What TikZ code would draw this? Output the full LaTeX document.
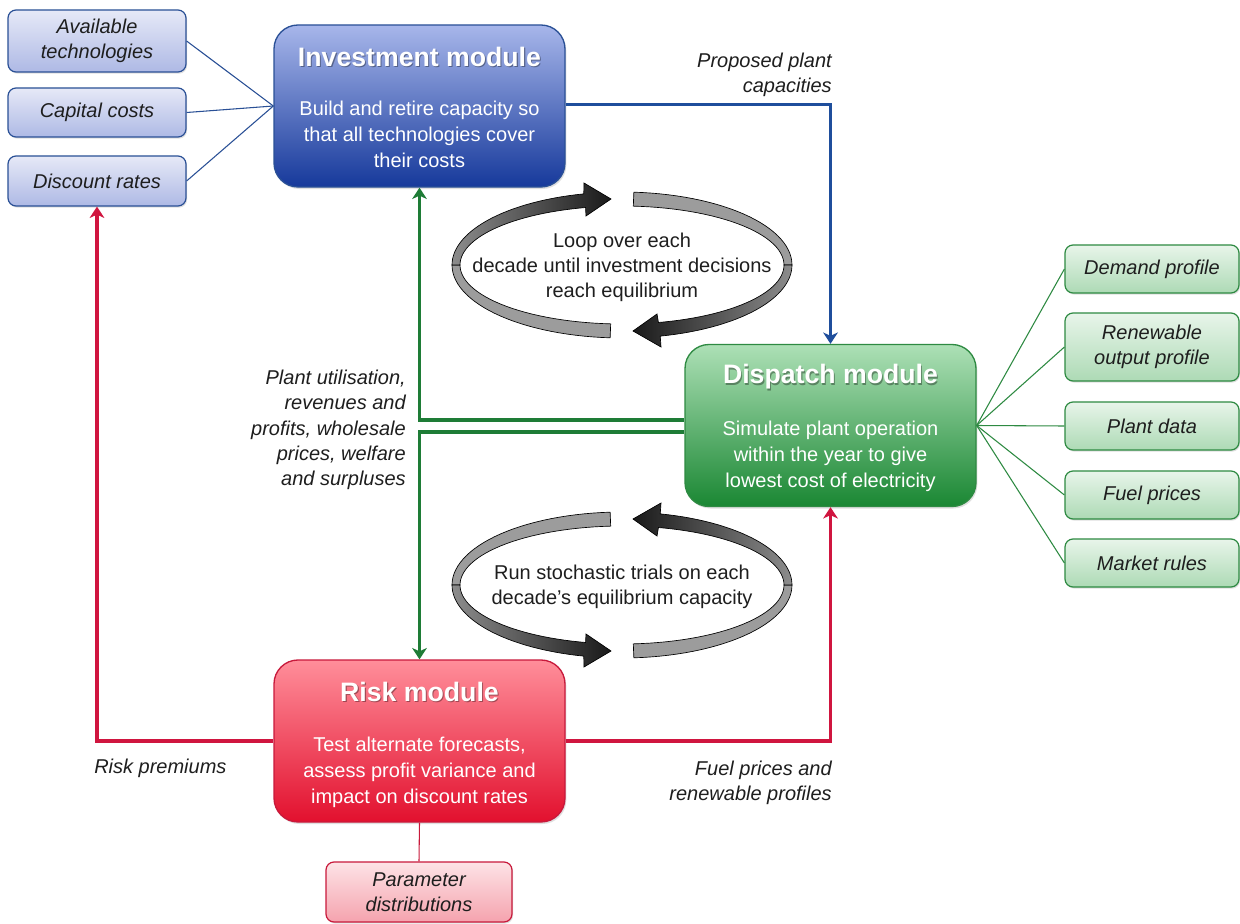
\documentclass[tikz,border=0pt]{standalone}
\usepackage{fontspec}
\setmainfont{Liberation Sans}
\usetikzlibrary{arrows.meta,shadows,calc}
\definecolor{bInTop}{HTML}{E6E9F7}
\definecolor{bInBot}{HTML}{AEB9E5}
\definecolor{bBorder}{HTML}{2A5096}
\definecolor{invTop}{HTML}{A7B6EA}
\definecolor{invBot}{HTML}{16399B}
\definecolor{blueArrow}{HTML}{1F4E9C}
\definecolor{gInTop}{HTML}{E8F5EA}
\definecolor{gInBot}{HTML}{ADDAB5}
\definecolor{gBorder}{HTML}{2E8A42}
\definecolor{dispTop}{HTML}{ADE0B6}
\definecolor{dispBot}{HTML}{1A8733}
\definecolor{greenArrow}{HTML}{1E7C36}
\definecolor{riskTop}{HTML}{FF8E9A}
\definecolor{riskBot}{HTML}{E2102E}
\definecolor{rBorder}{HTML}{C8193B}
\definecolor{redArrow}{HTML}{D0153F}
\definecolor{pTop}{HTML}{FDE3E6}
\definecolor{pBot}{HTML}{F5A3AE}
\definecolor{ribLight}{HTML}{9C9C9C}
\definecolor{lblText}{HTML}{1E1E1E}
\tikzset{
  inbox/.style={draw, rounded corners=6pt, line width=0.9pt, align=center, inner sep=0pt,
    font=\itshape\fontsize{15}{19}\selectfont, text=lblText,
    drop shadow={opacity=0.25, shadow xshift=0.8pt, shadow yshift=-1.2pt}},
  blueIn/.style={inbox, draw=bBorder, top color=bInTop, bottom color=bInBot,
    minimum width=133.5pt},
  greenIn/.style={inbox, draw=gBorder, top color=gInTop, bottom color=gInBot,
    minimum width=130.5pt},
  module/.style={draw, rounded corners=18pt, line width=1pt, minimum width=218.25pt,
    minimum height=121.5pt, inner sep=0pt,
    drop shadow={opacity=0.25, shadow xshift=1pt, shadow yshift=-1.5pt}},
  modtitle/.style={text=white, font=\bfseries\fontsize{20}{24}\selectfont, inner sep=0pt},
  modshadow/.style={text=black, opacity=0.35, font=\bfseries\fontsize{20}{24}\selectfont, inner sep=0pt},
  modbody/.style={text=white, align=center, font=\fontsize{15}{19.5}\selectfont, inner sep=0pt},
  lbl/.style={text=lblText, font=\itshape\fontsize{15}{19}\selectfont, inner sep=0pt},
  looptxt/.style={text=lblText, align=center, font=\fontsize{15}{18.75}\selectfont, inner sep=0pt},
  thinblue/.style={draw=bBorder, line width=0.8pt},
  thingreen/.style={draw=gBorder, line width=0.8pt},
  thinred/.style={draw=rBorder, line width=0.8pt},
  arr/.style={line width=2.6pt, -{Stealth[length=8.5pt,width=11pt,inset=2.5pt]}},
  barrow/.style={arr, draw=blueArrow},
  garrow/.style={arr, draw=greenArrow},
  rarrow/.style={arr, draw=redArrow},
  lightrib/.style={fill=ribLight, draw=black, line width=0.5pt},
  darkrib/.style={draw=black, line width=0.5pt}
}
\begin{document}
\begin{tikzpicture}[x=0.75pt,y=-0.75pt]
\useasboundingbox (0,0) rectangle (1240,924);
\fill[white] (0,0) rectangle (1240,924);

% ---------- left inputs ----------
\node[blueIn, minimum height=46.5pt] (av) at (97,41) {Available\\technologies};
\node[blueIn, minimum height=36.75pt] (cap) at (97,112.5) {Capital costs};
\node[blueIn, minimum height=37.5pt] (disc) at (97,181) {Discount rates};

% ---------- modules ----------
\node[module, draw=bBorder, top color=invTop, bottom color=invBot] (inv) at (419.5,106) {};
\node[modshadow, xshift=0.8pt, yshift=-0.9pt] (invTs) at (419.5,57) {Investment module};
\node[modtitle] (invT) at (419.5,57) {Investment module};
\node[modbody] (invB) at (419.5,134.5) {Build and retire capacity so\\that all technologies cover\\their costs};

\node[module, draw=gBorder, top color=dispTop, bottom color=dispBot] (disp) at (830.5,425.5) {};
\node[modshadow, xshift=0.8pt, yshift=-0.9pt] (dispTs) at (830.5,377) {Dispatch module};
\node[modtitle] (dispT) at (830.5,377) {Dispatch module};
\node[modbody] (dispB) at (830.5,456) {Simulate plant operation\\within the year to give\\lowest cost of electricity};

\node[module, draw=rBorder, top color=riskTop, bottom color=riskBot] (risk) at (419.5,741) {};
\node[modshadow, xshift=0.8pt, yshift=-0.9pt] (riskTs) at (419.5,692) {Risk module};
\node[modtitle] (riskT) at (419.5,692) {Risk module};
\node[modbody] (riskB) at (419.5,772) {Test alternate forecasts,\\assess profit variance and\\impact on discount rates};

% ---------- right inputs ----------
\node[greenIn, minimum height=36pt] (dem) at (1152,269) {Demand profile};
\node[greenIn, minimum height=51pt] (ren) at (1152,347) {Renewable\\output profile};
\node[greenIn, minimum height=36pt] (pd) at (1152,426) {Plant data};
\node[greenIn, minimum height=36pt] (fp) at (1152,495) {Fuel prices};
\node[greenIn, minimum height=36pt] (mr) at (1152,563) {Market rules};

% ---------- parameter box ----------
\node[inbox, draw=rBorder, top color=pTop, bottom color=pBot, minimum width=139.5pt, minimum height=45pt] (par) at (419,892) {Parameter\\distributions};

% ---------- thin connectors ----------
\draw[thinblue] (av.east) -- (inv.west);
\draw[thinblue] (cap.east) -- (inv.west);
\draw[thinblue] (disc.east) -- (inv.west);
\draw[thingreen] (disp.east) -- (dem.west);
\draw[thingreen] (disp.east) -- (ren.west);
\draw[thingreen] (disp.east) -- (pd.west);
\draw[thingreen] (disp.east) -- (fp.west);
\draw[thingreen] (disp.east) -- (mr.west);
\draw[thinred] (risk.south) -- (par.north);

% ---------- thick arrows ----------
\draw[barrow] ([yshift=1.2pt]inv.east) -| (disp.north);
\draw[garrow] ([yshift=4.3pt]disp.west) -| (inv.south);
\draw[garrow] ([yshift=-4.8pt]disp.west) -| (risk.north);
\draw[rarrow] (risk.west) -| (disc.south);
\draw[rarrow] (risk.east) -| (disp.south);

% ---------- arrow labels ----------
\node[lbl, align=right, anchor=east] (lprop) at (832,75) {Proposed plant\\capacities};
\node[lbl, align=right, anchor=east] (lutil) at (406,430) {Plant utilisation,\\revenues and\\profits, wholesale\\prices, welfare\\and surpluses};
\node[lbl, anchor=west] (lrisk) at (94,768) {Risk premiums};
\node[lbl, align=right, anchor=east] (lfuel) at (832,783) {Fuel prices and\\renewable profiles};

% ---------- upper loop (cy=265) ----------
\path[lightrib] plot[domain=86:0,samples=30] ({622+170*cos(\x)},{265-73*sin(\x)})
  -- plot[domain=0:86,samples=30] ({622+162*cos(\x)},{265-59*sin(\x)}) -- cycle;
\path[lightrib] plot[domain=266:180,samples=30] ({622+170*cos(\x)},{265-73*sin(\x)})
  -- plot[domain=180:266,samples=30] ({622+162*cos(\x)},{265-59*sin(\x)}) -- cycle;
\shadedraw[darkrib, left color=black!45, right color=black!90]
  plot[domain=180:103,samples=30] ({622+170*cos(\x)},{265-73*sin(\x)})
  -- (584,183) -- (611,199) -- (586,216)
  -- plot[domain=103:180,samples=30] ({622+162*cos(\x)},{265-59*sin(\x)}) -- cycle;
\shadedraw[darkrib, left color=black!90, right color=black!45]
  plot[domain=0:-77,samples=30] ({622+170*cos(\x)},{265-73*sin(\x)})
  -- (661,347) -- (633,331) -- (657,314)
  -- plot[domain=-77:0,samples=30] ({622+162*cos(\x)},{265-59*sin(\x)}) -- cycle;
\node[looptxt] (loop1) at (622,267) {Loop over each\\decade until investment decisions\\reach equilibrium};

% ---------- lower loop (cy=585) ----------
\path[lightrib] plot[domain=94:180,samples=30] ({622+170*cos(\x)},{585-73*sin(\x)})
  -- plot[domain=180:94,samples=30] ({622+162*cos(\x)},{585-59*sin(\x)}) -- cycle;
\path[lightrib] plot[domain=274:360,samples=30] ({622+170*cos(\x)},{585-73*sin(\x)})
  -- plot[domain=360:274,samples=30] ({622+162*cos(\x)},{585-59*sin(\x)}) -- cycle;
\shadedraw[darkrib, left color=black!45, right color=black!90]
  plot[domain=180:257,samples=30] ({622+170*cos(\x)},{585-73*sin(\x)})
  -- (584,667) -- (611,651) -- (586,634)
  -- plot[domain=257:180,samples=30] ({622+162*cos(\x)},{585-59*sin(\x)}) -- cycle;
\shadedraw[darkrib, left color=black!90, right color=black!45]
  plot[domain=0:77,samples=30] ({622+170*cos(\x)},{585-73*sin(\x)})
  -- (661,503) -- (633,519) -- (657,536)
  -- plot[domain=77:0,samples=30] ({622+162*cos(\x)},{585-59*sin(\x)}) -- cycle;
\node[looptxt] (loop2) at (622,587) {Run stochastic trials on each\\decade’s equilibrium capacity};
\end{tikzpicture}
\end{document}
